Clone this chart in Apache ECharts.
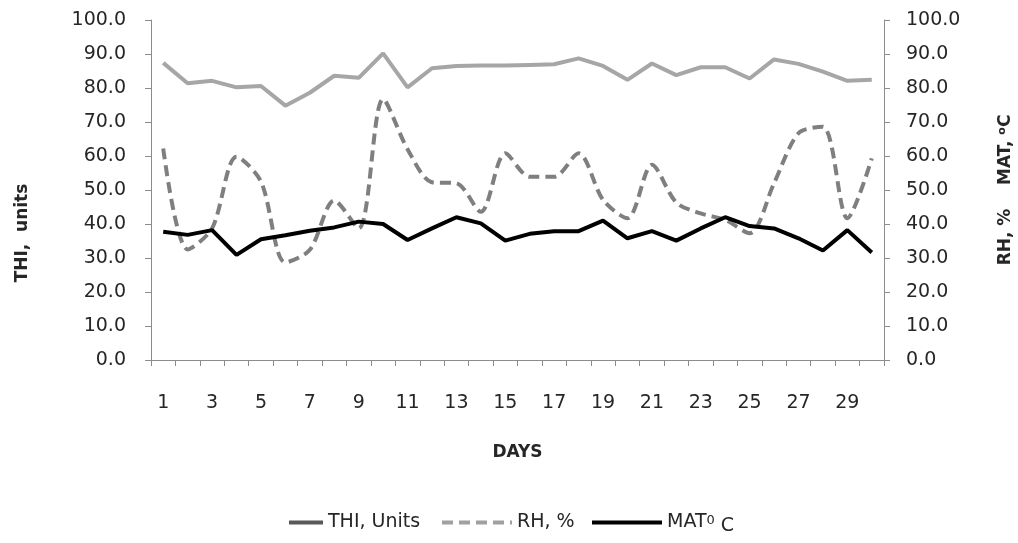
<!DOCTYPE html>
<html>
<head>
<meta charset="utf-8">
<title>THI, RH, MAT</title>
<script src="https://cdn.jsdelivr.net/npm/echarts@6/dist/echarts.min.js"></script>
<style>
    html, body { margin: 0; padding: 0; background: #fff; }
    #chart { width: 1018px; height: 543px; }
</style>
</head>
<body>
<div id="chart"></div>
<script>
// 数据（从图上读出来的）
var days = [];
for (var d = 1; d <= 30; d++) days.push(String(d));

var thi = [87.4, 81.4, 82.1, 80.2, 80.6, 74.8, 78.6, 83.6, 83.0, 90.2,
           80.2, 85.8, 86.5, 86.6, 86.6, 86.8, 87.0, 88.7, 86.5, 82.4,
           87.2, 83.8, 86.1, 86.1, 82.8, 88.4, 87.1, 84.8, 82.1, 82.4];
var rh  = [62.2, 32.5, 38.7, 59.8, 52.5, 28.7, 32.4, 46.9, 38.7, 76.7,
           62.0, 52.3, 52.0, 43.6, 60.8, 53.9, 53.9, 60.8, 47.1, 41.7,
           57.4, 46.3, 43.1, 41.2, 37.3, 52.0, 66.7, 68.6, 41.7, 59.3];
var mat = [37.7, 36.8, 38.2, 30.9, 35.5, 36.7, 38.0, 39.0, 40.7, 40.0,
           35.3, 38.7, 42.0, 40.2, 35.1, 37.1, 37.9, 37.9, 41.0, 35.8,
           37.9, 35.1, 38.7, 42.0, 39.4, 38.7, 35.8, 32.2, 38.2, 31.6];

var FONT = 'DejaVu Sans';
var axisColor = '#8c8c8c';

var myChart = echarts.init(document.getElementById('chart'));

function valueAxis(pos) {
    return {
        type: 'value',
        position: pos,
        min: 0,
        max: 100,
        interval: 10,
        axisLine: { show: true, lineStyle: { color: axisColor, width: 1 } },
        axisTick: { show: true, length: 6, lineStyle: { color: axisColor } },
        splitLine: { show: false },
        axisLabel: {
            color: '#262626',
            fontFamily: FONT,
            fontSize: 19,
            margin: pos === 'left' ? 25 : 22,
            formatter: function (v) { return v.toFixed(1); }
        }
    };
}

// 图例分成三个，因为每个图例线段长度不一样
function oneLegend(name, left, width, line) {
    return {
        left: left,
        top: 508,
        itemWidth: width,
        itemHeight: 14,
        selectedMode: false,
        data: [{ name: name, lineStyle: line, itemStyle: { opacity: 0 } }],
        textStyle: { fontFamily: FONT, fontSize: 19, color: '#262626',
            rich: {
                sup: { fontFamily: FONT, fontSize: 13, color: '#262626', padding: [0, 0, 4, 0] },
                low: { fontFamily: FONT, fontSize: 19, color: '#262626', padding: [8, 0, 0, 0] }
            }
        },
        formatter: function (n) {
            if (n === 'MAT') return 'MAT{sup|0} {low|C}';
            return n;
        }
    };
}

var option = {
    animation: false,
    backgroundColor: '#fff',
    grid: { left: 151, right: 134, top: 20, bottom: 183 },
    legend: [
        oneLegend('THI, Units', 282, 34, { color: '#595959', width: 4, type: 'solid' }),
        oneLegend('RH, %', 435, 70, { color: '#a0a0a0', width: 4, type: [11, 6] }),
        oneLegend('MAT', 585, 70, { color: '#000', width: 4, type: 'solid' })
    ],
    xAxis: {
        type: 'category',
        data: days,
        boundaryGap: true,
        name: 'DAYS',
        nameLocation: 'middle',
        nameGap: 84,
        nameTextStyle: { fontFamily: FONT, fontSize: 17, fontWeight: 'bold', color: '#262626' },
        axisLine: { show: true, lineStyle: { color: axisColor } },
        axisTick: { show: true, interval: 0, length: 6, lineStyle: { color: axisColor } },
        axisLabel: { interval: 1, margin: 34, fontFamily: FONT, fontSize: 19, color: '#262626' }
    },
    yAxis: [valueAxis('left'), valueAxis('right')],
    graphic: [
        {
            type: 'text',
            x: 23, y: 233,
            rotation: Math.PI / 2,
            style: {
                text: 'THI,  units',
                fontFamily: FONT, fontSize: 17, fontWeight: 'bold', fill: '#262626',
                align: 'center', verticalAlign: 'middle'
            }
        },
        {
            type: 'text',
            x: 1006, y: 190,
            rotation: Math.PI / 2,
            style: {
                text: 'RH, %    MAT, {s|o}C',
                fontFamily: FONT, fontSize: 17, fontWeight: 'bold', fill: '#262626',
                align: 'center', verticalAlign: 'middle',
                rich: {
                    s: { fontFamily: FONT, fontSize: 11, fontWeight: 'bold', fill: '#262626', padding: [0, 0, 8, 0] }
                }
            }
        }
    ],
    series: [
        {
            name: 'THI, Units',
            type: 'line',
            data: thi,
            yAxisIndex: 0,
            symbol: 'none',
            lineStyle: { color: '#a6a6a6', width: 4 },
            itemStyle: { color: '#a6a6a6' }
        },
        {
            name: 'RH, %',
            type: 'line',
            data: rh,
            yAxisIndex: 1,
            symbol: 'none',
            smooth: 0.3,
            lineStyle: { color: '#7f7f7f', width: 4, type: [11, 6] },
            itemStyle: { color: '#7f7f7f' }
        },
        {
            name: 'MAT',
            type: 'line',
            data: mat,
            yAxisIndex: 1,
            symbol: 'none',
            lineStyle: { color: '#000', width: 4 },
            itemStyle: { color: '#000' }
        }
    ]
};

myChart.setOption(option);
window.addEventListener('resize', function () {
    myChart.resize();
});
</script>
</body>
</html>
